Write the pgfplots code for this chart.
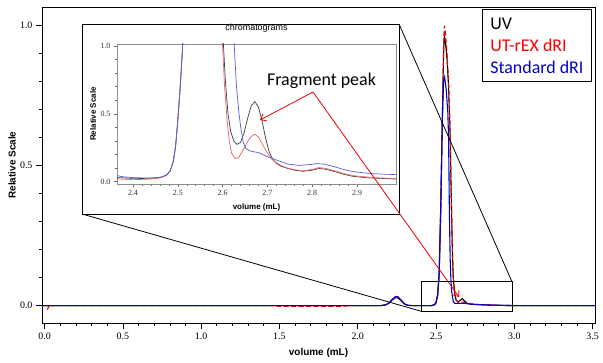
\documentclass[border=0pt]{standalone}
\usepackage{pgfplots}
\pgfplotsset{compat=1.18}
\usetikzlibrary{arrows.meta}
\usepackage{fontspec}
\setmainfont{Liberation Serif}
\newfontfamily\calib{Carlito}
\newfontfamily\lsans{Liberation Sans}
\definecolor{mblue}{RGB}{0,0,200}
\definecolor{mred}{RGB}{235,0,0}
\definecolor{iblue}{RGB}{90,90,220}
\definecolor{ired}{RGB}{230,100,100}
\definecolor{iblack}{RGB}{60,60,60}
\begin{document}
\begin{tikzpicture}[x=1bp,y=1bp]
\useasboundingbox (0,0) rectangle (603,362);
\begin{axis}[at={(42bp,39bp)}, anchor=south west, scale only axis,
 width=553bp, height=316bp,
 xmin=-0.016, xmax=3.515, ymin=-0.062, ymax=1.065,
 xtick={0,0.5,1,1.5,2,2.5,3,3.5}, xticklabels={0.0,0.5,1.0,1.5,2.0,2.5,3.0,3.5},
 ytick={0,0.5,1}, yticklabels={0.0,0.5,1.0},
 minor x tick num=4, minor y tick num=4,
 tick align=outside, xtick pos=bottom, ytick pos=left,
 major tick length=6bp, minor tick length=3bp,
 tick style={black, line width=0.6pt},
 axis line style={line width=0.8pt},
 ticklabel style={font=\fontsize{10}{12}\selectfont},
 xlabel={volume (mL)}, ylabel={Relative Scale},
 label style={font=\lsans\bfseries\fontsize{10}{12}\selectfont},
 xlabel style={at={(axis description cs:0.5,-0.095)}, anchor=center},
 ylabel style={at={(axis description cs:-0.054,0.5)}, anchor=center},
 legend image code/.code={},
 legend cell align=left,
 legend style={at={(axis description cs:0.9946,0.9937)}, anchor=north east,
   draw=black, line width=1pt, font=\calib\fontsize{18}{21}\selectfont,
   inner xsep=8bp, inner ysep=7bp, row sep=8bp,
   nodes={inner sep=0pt, text height=13bp, text depth=1bp}},
]
\addplot[black, line width=1.1pt] coordinates {
(-0.016,0)(0.5,0)(1.0,0)(1.5,0)(2.15,0)(2.18,0.003)(2.20,0.009)(2.22,0.02)(2.24,0.028)(2.25,0.029)(2.26,0.026)(2.28,0.016)(2.30,0.005)(2.32,0.001)(2.35,0)
(2.47,0)(2.49,0.003)(2.50,0.01)(2.51,0.035)(2.52,0.11)(2.53,0.34)(2.54,0.66)(2.548,0.9)(2.553,0.96)(2.56,0.94)(2.57,0.88)(2.58,0.78)(2.59,0.61)(2.595,0.45)(2.60,0.31)(2.605,0.18)(2.61,0.1)(2.615,0.065)(2.62,0.04)(2.628,0.02)(2.64,0.013)(2.655,0.019)(2.668,0.025)(2.68,0.018)(2.70,0.008)(2.72,0.005)(2.8,0.003)(2.9,0.001)(3.0,0)(3.515,0)};
\addlegendentry{\textcolor{black}{UV}}
\addplot[mred, line width=1.1pt, dash pattern=on 5pt off 2.5pt] coordinates {
(-0.016,0)(0.01,0)(0.02,-0.012)(0.03,0)(0.045,-0.004)(0.055,0)(0.5,0)(1.0,0)(1.45,0)(1.5,-0.0025)(1.9,-0.0025)(1.95,0)(2.15,0)(2.18,0.003)(2.20,0.009)(2.22,0.02)(2.24,0.028)(2.25,0.029)(2.26,0.026)(2.28,0.016)(2.30,0.005)(2.32,0.001)(2.35,0)
(2.47,0)(2.49,0.003)(2.50,0.01)(2.51,0.035)(2.52,0.11)(2.53,0.34)(2.54,0.66)(2.548,0.92)(2.553,0.998)(2.56,0.97)(2.57,0.9)(2.58,0.8)(2.59,0.62)(2.595,0.45)(2.60,0.31)(2.605,0.18)(2.61,0.1)(2.615,0.065)(2.62,0.04)(2.628,0.02)(2.64,0.012)(2.66,0.012)(2.67,0.013)(2.69,0.01)(2.72,0.006)(2.8,0.003)(2.9,0.001)(3.0,0)(3.515,0)};
\addlegendentry{\textcolor{red}{UT-rEX dRI}}
\addplot[mblue, line width=1.1pt] coordinates {
(-0.016,0)(0.5,0)(1.0,0)(1.5,0)(2.15,0)(2.18,0.003)(2.20,0.01)(2.22,0.022)(2.24,0.032)(2.25,0.033)(2.26,0.03)(2.28,0.018)(2.30,0.006)(2.32,0.001)(2.35,0)
(2.47,0)(2.49,0.003)(2.50,0.012)(2.51,0.04)(2.52,0.12)(2.53,0.36)(2.54,0.66)(2.548,0.8)(2.555,0.815)(2.565,0.77)(2.575,0.69)(2.58,0.6)(2.585,0.34)(2.59,0.17)(2.595,0.09)(2.60,0.05)(2.61,0.015)(2.62,0.008)(2.65,0.008)(2.68,0.008)(2.75,0.004)(2.85,0.002)(3.0,0)(3.515,0)};
\addlegendentry{\textcolor{mblue}{Standard dRI}}
\coordinate (zbl) at (axis cs:2.404,-0.02);
\coordinate (ztr) at (axis cs:2.985,0.085);
\draw[black, line width=0.8pt] (zbl) rectangle (ztr);
\end{axis}
\draw[line width=0.8pt] (82,148) -- (zbl);
\draw[line width=0.8pt] (399,338) -- (ztr);
\filldraw[fill=white, draw=black, line width=0.9pt] (82,148) rectangle (399,338);
\begin{axis}[at={(117bp,178bp)}, anchor=south west, scale only axis,
 width=279bp, height=140bp,
 xmin=2.3643, xmax=2.987, ymin=-0.017, ymax=1.015,
 xtick={2.4,2.5,2.6,2.7,2.8,2.9}, xticklabels={2.4,2.5,2.6,2.7,2.8,2.9},
 ytick={0,0.5,1}, yticklabels={0.0,0.5,1.0},
 minor x tick num=4, minor y tick num=4,
 tick align=outside, xtick pos=bottom, ytick pos=left,
 major tick length=3bp, minor tick length=2bp,
 axis line style={black!45, line width=0.6pt},
 tick style={black!60, line width=0.5pt},
 ticklabel style={font=\fontsize{8}{9}\selectfont, text=black!80},
 title={chromatograms},
 title style={font=\lsans\fontsize{9}{10}\selectfont, at={(axis description cs:0.5,1.071)}, anchor=center},
 xlabel={volume (mL)}, ylabel={Relative Scale},
 label style={font=\lsans\bfseries\fontsize{8}{9}\selectfont},
 xlabel style={at={(axis description cs:0.5,-0.164)}, anchor=center},
 ylabel style={at={(axis description cs:-0.086,0.5)}, anchor=center},
]
\addplot[iblack, line width=0.7pt] coordinates {
(2.364,0.03)(2.38,0.028)(2.40,0.025)(2.42,0.024)(2.44,0.025)(2.455,0.028)(2.465,0.035)(2.475,0.05)(2.483,0.08)(2.49,0.15)(2.495,0.26)(2.50,0.45)(2.505,0.68)(2.51,0.95)(2.515,1.3)(2.52,1.8)
(2.59,1.8)(2.597,1.3)(2.602,1.0)(2.606,0.75)(2.612,0.5)(2.618,0.37)(2.625,0.3)(2.632,0.275)(2.64,0.29)(2.648,0.36)(2.656,0.47)(2.664,0.56)(2.672,0.59)(2.68,0.55)(2.688,0.45)(2.696,0.32)(2.704,0.22)(2.712,0.165)(2.72,0.135)(2.73,0.115)(2.745,0.098)(2.76,0.085)(2.78,0.077)(2.80,0.085)(2.815,0.097)(2.83,0.092)(2.85,0.075)(2.87,0.055)(2.89,0.04)(2.92,0.03)(2.95,0.025)(2.987,0.02)};
\addplot[ired, line width=0.7pt] coordinates {
(2.364,0.02)(2.38,0.018)(2.40,0.015)(2.42,0.017)(2.44,0.02)(2.455,0.025)(2.465,0.033)(2.475,0.048)(2.483,0.078)(2.49,0.15)(2.495,0.26)(2.50,0.45)(2.505,0.68)(2.51,0.95)(2.515,1.3)(2.52,1.8)
(2.59,1.8)(2.596,1.3)(2.6,1.0)(2.604,0.72)(2.61,0.45)(2.615,0.3)(2.62,0.21)(2.628,0.17)(2.636,0.18)(2.645,0.23)(2.655,0.29)(2.663,0.33)(2.671,0.35)(2.68,0.33)(2.69,0.27)(2.70,0.21)(2.71,0.165)(2.72,0.14)(2.73,0.12)(2.745,0.1)(2.76,0.088)(2.78,0.08)(2.80,0.09)(2.815,0.104)(2.83,0.098)(2.85,0.08)(2.87,0.06)(2.89,0.045)(2.92,0.035)(2.95,0.028)(2.987,0.022)};
\addplot[iblue, line width=0.7pt] coordinates {
(2.364,0.045)(2.38,0.035)(2.40,0.03)(2.42,0.028)(2.44,0.028)(2.455,0.03)(2.465,0.036)(2.475,0.05)(2.483,0.08)(2.49,0.15)(2.495,0.26)(2.50,0.45)(2.505,0.68)(2.51,0.95)(2.515,1.3)(2.52,1.8)
(2.62,1.8)(2.626,1.0)(2.631,0.7)(2.636,0.52)(2.64,0.41)(2.646,0.29)(2.652,0.245)(2.66,0.228)(2.67,0.22)(2.68,0.215)(2.69,0.2)(2.70,0.185)(2.72,0.16)(2.745,0.13)(2.77,0.12)(2.79,0.125)(2.81,0.133)(2.825,0.13)(2.85,0.11)(2.87,0.09)(2.89,0.075)(2.92,0.063)(2.95,0.057)(2.987,0.052)};
\end{axis}
\node[font=\calib\fontsize{18}{21}\selectfont, anchor=base, inner sep=0pt] at (321.5,277) {Fragment peak};
\draw[mred, line width=0.8pt, -{Straight Barb[length=5bp,width=8bp]}] (313,270) -- (260,242);
\draw[mred, line width=0.8pt, -{Straight Barb[length=5bp,width=8bp]}] (313,270) -- (459,65);
\end{tikzpicture}
\end{document}
